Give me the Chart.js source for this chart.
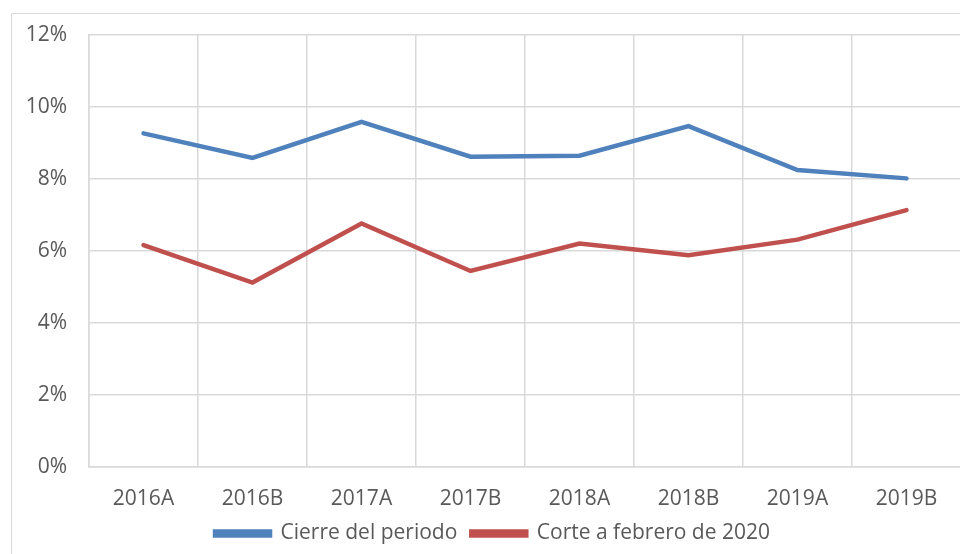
<!DOCTYPE html>
<html>
<head>
<meta charset="utf-8">
<script src="https://cdn.jsdelivr.net/npm/chart.js@4"></script>
<style>
  html, body { margin: 0; padding: 0; background: #fff; overflow: hidden; }
  #marco { position: absolute; left: 11px; top: 13px; width: 1000px; height: 600px; border: 1.5px solid #d9d9d9; }
  #caja { position: absolute; left: 0; top: 0; width: 980px; height: 554px; }
</style>
</head>
<body>
<div id="marco"></div>
<div id="caja"><canvas id="grafico"></canvas></div>
<script>
// --- Datos ---
const periodos = ['2016A', '2016B', '2017A', '2017B', '2018A', '2018B', '2019A', '2019B'];
const cierrePeriodo = [9.26, 8.58, 9.58, 8.61, 8.64, 9.46, 8.24, 8.01];
const corteFebrero = [6.16, 5.12, 6.76, 5.44, 6.20, 5.88, 6.31, 7.13];
const ticksY = [0, 2, 4, 6, 8, 10, 12];

const gris = '#d9d9d9';
const texto = '#595959';
const fuente = { family: 'Open Sans', size: 21 };

// --- Gráfico ---
const lienzo = document.getElementById('grafico');
new Chart(lienzo, {
  type: 'line',
  data: {
    labels: periodos,
    datasets: [{
      label: 'Cierre del periodo',
      data: cierrePeriodo,
      borderColor: '#4f81bd',
      backgroundColor: '#4f81bd',
      borderWidth: 4.5,
      borderCapStyle: 'round',
      pointRadius: 0,
      tension: 0
    }, {
      label: 'Corte a febrero de 2020',
      data: corteFebrero,
      borderColor: '#c0504d',
      backgroundColor: '#c0504d',
      borderWidth: 4.5,
      borderCapStyle: 'round',
      pointRadius: 0,
      tension: 0
    }]
  },
  options: {
    responsive: true,
    maintainAspectRatio: false,
    animation: false,
    // el área del gráfico sigue más allá del borde derecho, como en la imagen
    layout: { padding: { left: 24, right: 19, top: 33, bottom: 0 } },
    plugins: {
      tooltip: { enabled: false },
      legend: {
        position: 'bottom',
        labels: {
          color: texto,
          font: fuente,
          boxWidth: 55,
          boxHeight: 4,
          padding: 14
        }
      }
    },
    scales: {
      x: {
        offset: true,
        grid: { offset: true, color: gris, lineWidth: 1.5, drawTicks: false },
        border: { color: gris, width: 1.5 },
        ticks: { color: texto, font: fuente, padding: 19, maxRotation: 0 },
        afterFit: (escala) => { escala.height = 42; }
      },
      y: {
        min: 0,
        max: 12,
        afterBuildTicks: (escala) => { escala.ticks = ticksY.map(v => ({ value: v })); },
        grid: { color: gris, lineWidth: 1.5, drawTicks: false },
        border: { color: gris, width: 1.5 },
        ticks: { color: texto, font: fuente, padding: 22, callback: (v) => v + '%' },
        afterFit: (escala) => { escala.width = 65; }
      }
    }
  }
});
</script>
</body>
</html>
